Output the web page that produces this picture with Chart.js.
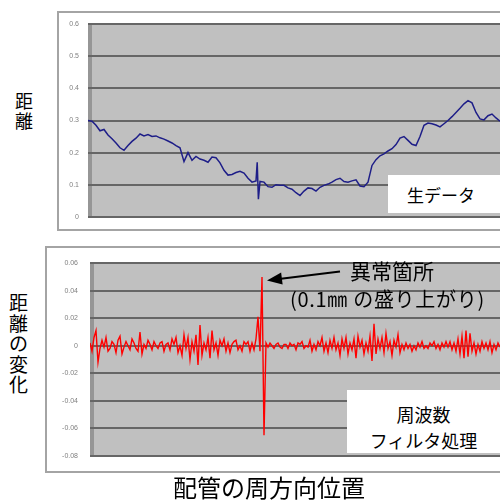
<!DOCTYPE html>
<html>
<head>
<meta charset="utf-8">
<script src="https://cdn.jsdelivr.net/npm/chart.js@4"></script>
<style>
html, body { margin: 0; padding: 0; width: 500px; height: 500px; overflow: hidden; background: #fff; }
.frame { position: absolute; border: 2px solid #a4a4a4; box-sizing: border-box; }
canvas { position: absolute; }
.jp { position: absolute; font-family: "Noto Sans CJK JP"; color: #000; white-space: nowrap; line-height: 1; }
.box { position: absolute; background: #fff; }
</style>
</head>
<body>
<div class="frame" style="left:57px;top:11px;width:470px;height:220px"></div>
<div class="frame" style="left:45px;top:246px;width:480px;height:227px"></div>

<canvas id="rawChart" width="443" height="219" style="left:57px;top:11px"></canvas>
<canvas id="filtChart" width="455" height="225" style="left:45px;top:247px"></canvas>

<div class="jp" style="left:15px;top:90px;font-size:18px;line-height:20px">距<br>離</div>
<div class="jp" style="left:9px;top:292px;font-size:19px;line-height:20.5px">距<br>離<br>の<br>変<br>化</div>
<div class="jp" style="left:173px;top:475px;font-size:24px">配管の周方向位置</div>

<div class="box" style="left:388px;top:175px;width:120px;height:38px"></div>
<div class="jp" style="left:407px;top:186px;font-size:17px">生データ</div>

<div class="box" style="left:347px;top:390px;width:160px;height:63px"></div>
<div class="jp" style="left:347px;top:401px;width:153px;text-align:center;font-size:18px;line-height:26px">周波数<br>フィルタ処理</div>

<div class="jp" style="left:350px;top:260px;font-size:21px">異常箇所</div>
<div class="jp" style="left:290px;top:289px;font-size:20px;letter-spacing:0.7px">(0.1㎜ の盛り上がり)</div>

<script>
// raw distance data, sampled along the pipe circumference
const rawValues = [
  0.300, 0.298, 0.285, 0.268, 0.272, 0.255, 0.243, 0.230, 0.215, 0.207,
  0.222, 0.235, 0.245, 0.258, 0.252, 0.256, 0.250, 0.252, 0.246, 0.242,
  0.236, 0.230, 0.222, 0.215, 0.172, 0.200, 0.176, 0.188, 0.180, 0.176,
  0.170, 0.186, 0.184, 0.168, 0.145, 0.130, 0.132, 0.138, 0.142, 0.136,
  0.120, 0.108, 0.112, 0.110, 0.108, 0.094, 0.092, 0.100, 0.098, 0.098,
  0.090, 0.086, 0.075, 0.066, 0.080, 0.090, 0.088, 0.080, 0.092, 0.098,
  0.102, 0.108, 0.116, 0.120, 0.110, 0.108, 0.112, 0.115, 0.096, 0.094,
  0.108, 0.160, 0.178, 0.190, 0.196, 0.205, 0.212, 0.225, 0.245, 0.250,
  0.238, 0.226, 0.222, 0.250, 0.285, 0.292, 0.290, 0.286, 0.280, 0.290,
  0.300, 0.312, 0.325, 0.338, 0.352, 0.362, 0.355, 0.325, 0.305, 0.302,
  0.315, 0.320, 0.308, 0.298
];
// the anomaly spike in the raw data
const rawSpikePos = [42.3, 42.6];
const rawSpikeValues = [0.170, 0.055];
const rawTicks = [0, 0.1, 0.2, 0.3, 0.4, 0.5, 0.6];

// after frequency filtering
const filtValues = [
  0.002, -0.004, 0.006, 0.011, -0.012, -0.002, 0.004, -0.001, 0.006, -0.004,
  -0.002, 0.003, 0.001, -0.005, 0.004, 0.007, -0.006, -0.001, 0.003, 0.000,
  -0.003, 0.005, 0.002, -0.002, -0.004, 0.010, -0.006, 0.001, -0.002, 0.004,
  0.001, -0.003, 0.003, 0.000, -0.002, 0.002, 0.003, -0.004, 0.001, 0.002,
  -0.003, 0.005, 0.001, 0.006, -0.005, 0.000, -0.007, 0.008, -0.002, 0.006,
  -0.010, 0.003, -0.004, 0.008, -0.014, 0.015, -0.007, 0.002, -0.003, 0.006,
  -0.009, 0.011, -0.003, 0.002, -0.007, 0.004, 0.000, 0.005, -0.004, 0.002,
  -0.005, 0.001, 0.003, 0.004, -0.003, 0.000, -0.004, 0.003, 0.001, 0.003,
  -0.004, 0.002, -0.003, 0.005, 0.021, -0.004, 0.050, -0.065, 0.002, -0.001,
  0.002, 0.000, -0.002, 0.001, 0.002, -0.001, -0.002, 0.001, 0.001, -0.002,
  0.002, 0.000, 0.001, -0.003, 0.002, 0.001, 0.003, -0.002, 0.000, -0.001,
  0.004, -0.004, 0.001, -0.003, 0.003, 0.000, 0.006, -0.004, 0.002, -0.005,
  0.004, -0.002, 0.006, -0.003, 0.002, -0.007, 0.005, -0.002, 0.006, -0.006,
  0.002, -0.003, 0.005, -0.009, 0.007, -0.001, 0.004, -0.006, 0.002, -0.004,
  0.007, -0.011, 0.016, -0.006, 0.005, -0.002, 0.006, -0.005, 0.009, -0.002,
  0.003, -0.007, 0.004, -0.001, 0.008, -0.005, 0.001, -0.003, 0.002, -0.002,
  0.001, -0.004, 0.000, -0.003, 0.002, -0.001, 0.003, -0.002, 0.000, -0.002,
  0.002, 0.000, 0.003, -0.002, 0.001, -0.003, 0.002, -0.001, 0.003, -0.001,
  0.003, -0.003, 0.002, -0.004, 0.005, -0.006, 0.007, -0.009, 0.011, -0.008,
  0.009, -0.004, 0.002, -0.006, 0.001, -0.004, 0.003, -0.002, 0.002, -0.003,
  0.003, -0.005, 0.001, -0.003, 0.002, -0.001
];
const filtTicks = [-0.08, -0.06, -0.04, -0.02, 0, 0.02, 0.04, 0.06];

// arrow pointing at the anomaly (data coords)
const arrowFrom = { x: 125, y: 0.054 };
const arrowTo = { x: 88.5, y: 0.0475 };

var rawPoints = rawValues.map(function (v, i) { return { x: i, y: v }; });
rawPoints.splice(43, 0, { x: rawSpikePos[0], y: rawSpikeValues[0] }, { x: rawSpikePos[1], y: rawSpikeValues[1] });
var filtPoints = filtValues.map(function (v, i) { return { x: i, y: v }; });

var plotBg = {
    id: 'plotBg',
    beforeDraw: function (chart) {
        var ctx = chart.ctx, a = chart.chartArea;
        ctx.save();
        ctx.fillStyle = '#c0c0c0';
        ctx.fillRect(a.left, a.top, a.right - a.left, a.bottom - a.top);
        ctx.fillStyle = '#969696';
        ctx.fillRect(a.left, a.top, 4, a.bottom - a.top);
        ctx.restore();
    }
};

var arrowPlugin = {
    id: 'arrowPlugin',
    afterDatasetsDraw: function (chart) {
        var ctx = chart.ctx, xs = chart.scales.x, ys = chart.scales.y;
        var x1 = xs.getPixelForValue(arrowFrom.x), y1 = ys.getPixelForValue(arrowFrom.y);
        var x2 = xs.getPixelForValue(arrowTo.x), y2 = ys.getPixelForValue(arrowTo.y);
        var ang = Math.atan2(y2 - y1, x2 - x1);
        ctx.save();
        ctx.strokeStyle = '#000';
        ctx.fillStyle = '#000';
        ctx.lineWidth = 2;
        ctx.beginPath();
        ctx.moveTo(x1, y1);
        ctx.lineTo(x2 - 12 * Math.cos(ang), y2 - 12 * Math.sin(ang));
        ctx.stroke();
        ctx.beginPath();
        ctx.moveTo(x2, y2);
        ctx.lineTo(x2 - 15 * Math.cos(ang) + 6 * Math.sin(ang), y2 - 15 * Math.sin(ang) - 6 * Math.cos(ang));
        ctx.lineTo(x2 - 15 * Math.cos(ang) - 6 * Math.sin(ang), y2 - 15 * Math.sin(ang) + 6 * Math.cos(ang));
        ctx.closePath();
        ctx.fill();
        ctx.restore();
    }
};

function yScale(ticks, width, pad, decimals) {
    return {
        min: ticks[0],
        max: ticks[ticks.length - 1],
        afterBuildTicks: function (s) { s.ticks = ticks.map(function (t) { return { value: t }; }); },
        afterFit: function (s) { s.width = width; },
        grid: { color: '#666666', lineWidth: 2, drawTicks: false },
        border: { display: false },
        ticks: {
            padding: pad,
            color: '#808080',
            font: { family: 'Liberation Sans', size: 7 },
            callback: function (v) { return v === 0 ? '0' : v.toFixed(decimals); }
        }
    };
}

new Chart(document.getElementById('rawChart'), {
    type: 'line',
    data: {
        datasets: [{
            data: rawPoints,
            borderColor: '#1e1e88',
            borderWidth: 1.5,
            pointRadius: 0,
            tension: 0
        }]
    },
    options: {
        responsive: false,
        animation: false,
        layout: { padding: { top: 13, bottom: 12, left: 0, right: 0 } },
        plugins: { legend: { display: false }, tooltip: { enabled: false } },
        scales: {
            x: { type: 'linear', min: 0, max: rawValues.length - 1, display: false },
            y: yScale(rawTicks, 31, 9, 1)
        }
    },
    plugins: [plotBg]
});

new Chart(document.getElementById('filtChart'), {
    type: 'line',
    data: {
        datasets: [{
            data: filtPoints,
            borderColor: '#ff0000',
            borderWidth: 1.4,
            pointRadius: 0,
            tension: 0
        }]
    },
    options: {
        responsive: false,
        animation: false,
        layout: { padding: { top: 12, bottom: 13, left: 0, right: 0 } },
        plugins: { legend: { display: false }, tooltip: { enabled: false } },
        scales: {
            x: { type: 'linear', min: 0, max: filtValues.length - 1, display: false },
            y: yScale(filtTicks, 45, 12, 2)
        }
    },
    plugins: [plotBg, arrowPlugin]
});
</script>
</body>
</html>
